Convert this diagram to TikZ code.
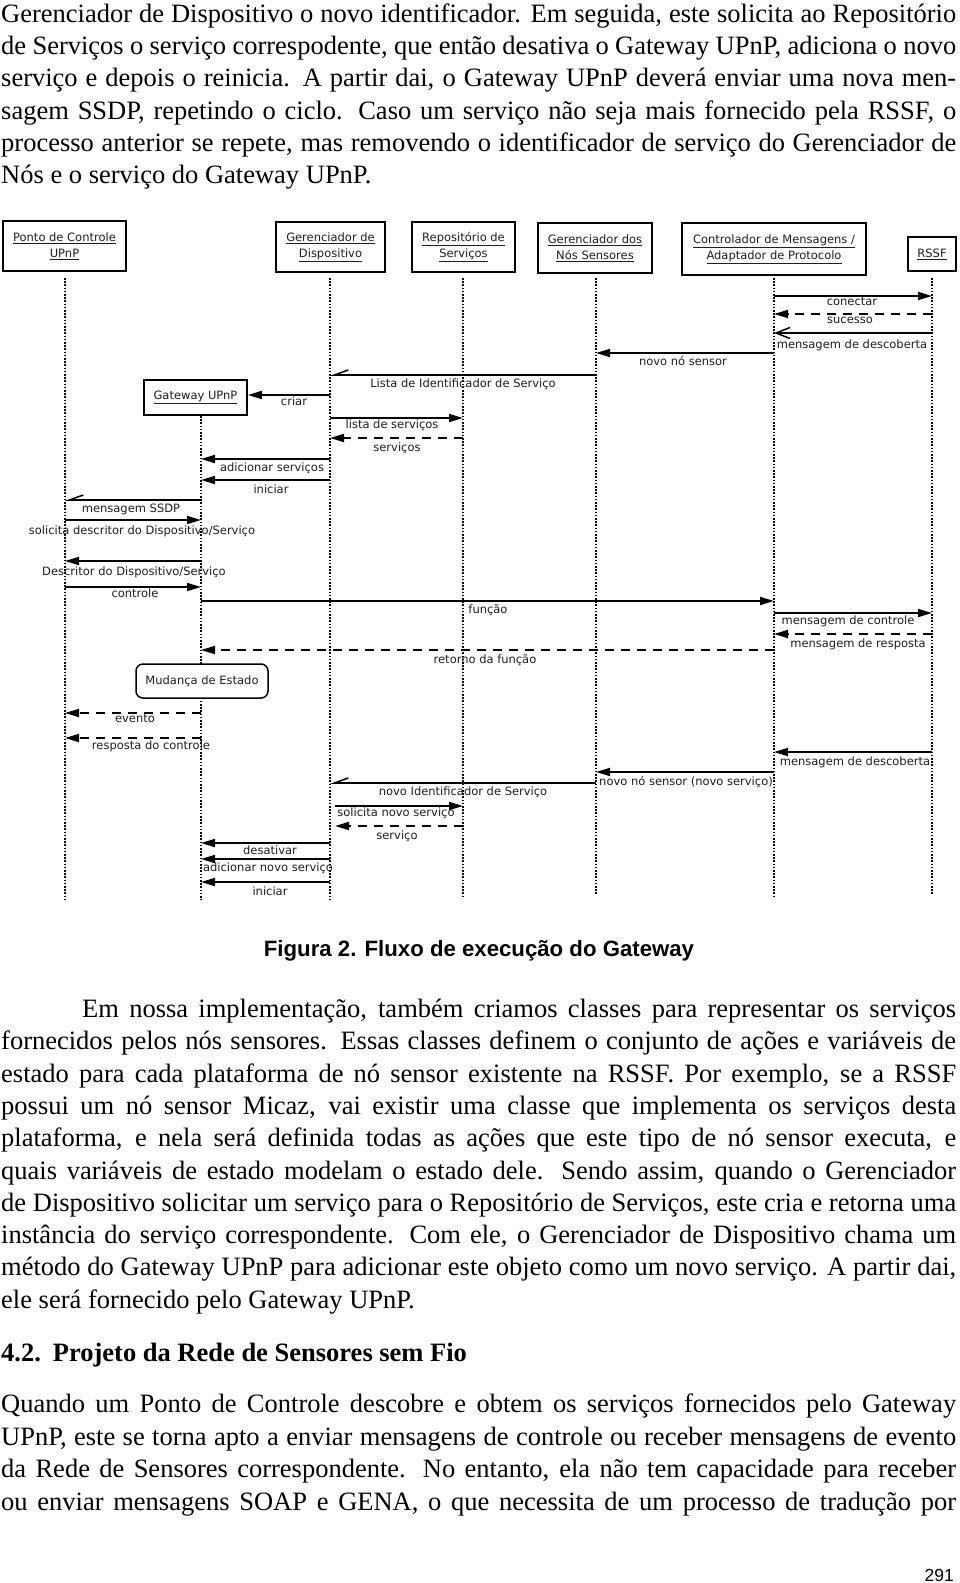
\documentclass[tikz,border=0pt]{standalone}
\usepackage{fontspec}
\setmainfont{Liberation Serif}
\newfontfamily\dvfont{DejaVu Sans}
\newfontfamily\hvfont{Liberation Sans}
\usetikzlibrary{arrows.meta}
\tikzset{
  lbl/.style={font=\dvfont\fontsize{11.5}{14}\selectfont, text=black!88, inner sep=0pt, anchor=mid},
  actor/.style={draw, line width=1.8pt, fill=white, align=center, font=\dvfont\fontsize{11.5}{16}\selectfont, text=black!88, inner sep=0pt},
  statebox/.style={draw, line width=1.5pt, rounded corners=7pt, fill=white, font=\dvfont\fontsize{11.5}{14}\selectfont, text=black!88, inner sep=0pt, minimum width=132pt, minimum height=34pt},
  life/.style={line width=1.6pt, dash pattern=on 1.6pt off 1.6pt},
  msg/.style={line width=1.8pt, -{Triangle[length=14pt,width=8pt]}},
  rmsg/.style={line width=1.8pt, dash pattern=on 9pt off 7pt, -{Triangle[length=14pt,width=8pt]}},
  amsg/.style={line width=1.8pt, -{Straight Barb[harpoon,swap,length=14pt,width=10pt,line width=1.5pt]}},
  omsg/.style={line width=1.8pt, -{Straight Barb[length=14pt,width=11pt,line width=1.5pt]}},
  body/.style={font=\fontsize{26.5}{32}\selectfont, inner sep=0pt, anchor=base west},
}
\begin{document}
\begin{tikzpicture}[x=1pt, y=-1pt]
\fill[white] (0,0) rectangle (960,1583);
\useasboundingbox (0,0) rectangle (960,1583);

% ---- top paragraph ----
\node[body] (a1) at (1,22.5) {\makebox[955pt][s]{Gerenciador de Dispositivo o novo identificador. Em seguida, este solicita ao Repositório}};
\node[body] (a2) at (1,54.7) {\makebox[955pt][s]{de Serviços o serviço correspodente, que então desativa o Gateway UPnP, adiciona o novo}};
\node[body] (a3) at (1,86.9) {\makebox[955pt][s]{serviço e depois o reinicia. A partir dai, o Gateway UPnP deverá enviar uma nova men-}};
\node[body] (a4) at (1,119.1) {\makebox[955pt][s]{sagem SSDP, repetindo o ciclo. Caso um serviço não seja mais fornecido pela RSSF, o}};
\node[body] (a5) at (1,151.3) {\makebox[955pt][s]{processo anterior se repete, mas removendo o identificador de serviço do Gerenciador de}};
\node[body] (a6) at (1,183.5) {Nós e o serviço do Gateway UPnP.};

% ---- actors ----
\node[actor, minimum width=123pt, minimum height=50pt] (pc) at (64.5,246) {\underline{Ponto de Controle}\\\underline{UPnP}};
\node[actor, minimum width=109pt, minimum height=50pt] (gd) at (330.5,247) {\underline{Gerenciador de}\\\underline{Dispositivo}};
\node[actor, minimum width=103pt, minimum height=50pt] (rs) at (463.5,247) {\underline{Repositório de}\\\underline{Serviços}};
\node[actor, minimum width=114pt, minimum height=50pt] (gn) at (595,248) {\underline{Gerenciador dos}\\\underline{Nós Sensores}};
\node[actor, minimum width=184pt, minimum height=52pt] (cm) at (774,249) {\underline{Controlador de Mensagens /}\\\underline{Adaptador de Protocolo}};
\node[actor, minimum width=48pt, minimum height=34pt] (rssf) at (932,254) {\underline{RSSF}};

% ---- lifelines ----
\coordinate (lPC) at (65,278);   \coordinate (ePC) at (65,900);
\coordinate (lGD) at (330,278);  \coordinate (eGD) at (330,900);
\coordinate (lGDb) at (335,278);
\coordinate (lRS) at (463,278);  \coordinate (eRS) at (463,898);
\coordinate (lGN) at (596,278);  \coordinate (eGN) at (596,894);
\coordinate (lCM) at (774,278);  \coordinate (eCM) at (774,897);
\coordinate (lRSSF) at (932,278);\coordinate (eRSSF) at (932,895);
\coordinate (lGW) at (201,416);  \coordinate (eGW) at (201,900);
\draw[life] (lPC) -- (ePC);
\draw[life] (lGD) -- (eGD);
\draw[life] (lRS) -- (eRS);
\draw[life] (lGN) -- (eGN);
\draw[life] (lCM) -- (eCM);
\draw[life] (lRSSF) -- (eRSSF);
\draw[life] (lGW) -- (eGW);

% ---- messages ----
\draw[msg] (lCM |- 0,296) -- (lRSSF |- 0,296);
\node[lbl] (m1) at (852,303) {conectar};
\draw[rmsg] (lRSSF |- 0,314) -- (lCM |- 0,314);
\node[lbl] (m2) at (850,321) {sucesso};
\draw[omsg] (lRSSF |- 0,333) -- (lCM |- 0,333);
\node[lbl] (m3) at (852,346) {mensagem de descoberta};
\draw[msg] (lCM |- 0,353) -- (lGN |- 0,353);
\node[lbl] (m4) at (683,363) {novo nó sensor};
\draw[amsg] (lGN |- 0,375) -- (lGD |- 0,375);
\node[lbl] (m5) at (463,385) {Lista de Identificador de Serviço};

\node[actor, minimum width=103pt, minimum height=35pt] (gw) at (195.5,397.5) {\underline{Gateway UPnP}};
\draw[msg] (lGD |- 0,395) -- (gw.east |- 0,395);
\node[lbl] (m6) at (294,403) {criar};
\draw[msg] (lGD |- 0,418) -- (lRS |- 0,418);
\node[lbl] (m7) at (392,426) {lista de serviços};
\draw[rmsg] (lRS |- 0,438) -- (lGD |- 0,438);
\node[lbl] (m8) at (397,449) {serviços};
\draw[msg] (lGD |- 0,459) -- (lGW |- 0,459);
\node[lbl] (m9) at (272,469) {adicionar serviços};
\draw[msg] (lGD |- 0,480) -- (lGW |- 0,480);
\node[lbl] (m10) at (271,491) {iniciar};
\draw[amsg] (lGW |- 0,500) -- (lPC |- 0,500);
\node[lbl] (m11) at (131,510) {mensagem SSDP};
\draw[msg] (lPC |- 0,520) -- (lGW |- 0,520);
\node[lbl] (m12) at (142,532) {solicita descritor do Dispositivo/Serviço};
\draw[msg] (lGW |- 0,561) -- (lPC |- 0,561);
\node[lbl] (m13) at (134,573) {Descritor do Dispositivo/Serviço};
\draw[msg] (lPC |- 0,587) -- (lGW |- 0,587);
\node[lbl] (m14) at (135,595) {controle};
\draw[msg] (lGW |- 0,601) -- (lCM |- 0,601);
\node[lbl] (m15) at (488,611) {função};
\draw[msg] (lCM |- 0,613) -- (lRSSF |- 0,613);
\node[lbl] (m16) at (848,622) {mensagem de controle};
\draw[rmsg] (lRSSF |- 0,634) -- (lCM |- 0,634);
\node[lbl] (m17) at (858,645) {mensagem de resposta};
\draw[rmsg] (lCM |- 0,650) -- (lGW |- 0,650);
\node[lbl] (m18) at (485,661) {retorno da função};
\node[statebox] (me) at (202,681) {Mudança de Estado};
\draw[rmsg] (lGW |- 0,713) -- (lPC |- 0,713);
\node[lbl] (m19) at (135,720) {evento};
\draw[rmsg] (lGW |- 0,738) -- (lPC |- 0,738);
\node[lbl] (m20) at (151,747) {resposta do controle};
\draw[msg] (lRSSF |- 0,752) -- (lCM |- 0,752);
\node[lbl] (m21) at (855,763) {mensagem de descoberta};
\draw[msg] (lCM |- 0,772) -- (lGN |- 0,772);
\node[lbl] (m22) at (686,783) {novo nó sensor (novo serviço)};
\draw[amsg] (lGN |- 0,783) -- (lGD |- 0,783);
\node[lbl] (m23) at (463,793) {novo Identificador de Serviço};
\draw[msg] (lGDb |- 0,806) -- (lRS |- 0,806);
\node[lbl] (m24) at (396,814) {solicita novo serviço};
\draw[rmsg] (lRS |- 0,826) -- (lGDb |- 0,826);
\node[lbl] (m25) at (397,837) {serviço};
\draw[msg] (lGD |- 0,843) -- (lGW |- 0,843);
\node[lbl] (m26) at (270,852) {desativar};
\draw[msg] (lGD |- 0,859) -- (lGW |- 0,859);
\node[lbl] (m27) at (268,869) {adicionar novo serviço};
\draw[msg] (lGD |- 0,882) -- (lGW |- 0,882);
\node[lbl] (m28) at (270,893) {iniciar};

% ---- caption ----
\node[font=\hvfont\bfseries\fontsize{22.2}{26}\selectfont, anchor=base, inner sep=0pt] (cap) at (479,956) {Figura 2. Fluxo de execução do Gateway};

% ---- bottom paragraph ----
\node[body] (b1) at (82,1017.5) {\makebox[874pt][s]{Em nossa implementação, também criamos classes para representar os serviços}};
\node[body] (b2) at (1,1049.8) {\makebox[955pt][s]{fornecidos pelos nós sensores. Essas classes definem o conjunto de ações e variáveis de}};
\node[body] (b3) at (1,1082.1) {\makebox[955pt][s]{estado para cada plataforma de nó sensor existente na RSSF. Por exemplo, se a RSSF}};
\node[body] (b4) at (1,1114.4) {\makebox[955pt][s]{possui um nó sensor Micaz, vai existir uma classe que implementa os serviços desta}};
\node[body] (b5) at (1,1146.7) {\makebox[955pt][s]{plataforma, e nela será definida todas as ações que este tipo de nó sensor executa, e}};
\node[body] (b6) at (1,1179) {\makebox[955pt][s]{quais variáveis de estado modelam o estado dele. Sendo assim, quando o Gerenciador}};
\node[body] (b7) at (1,1211.3) {\makebox[955pt][s]{de Dispositivo solicitar um serviço para o Repositório de Serviços, este cria e retorna uma}};
\node[body] (b8) at (1,1243.6) {\makebox[955pt][s]{instância do serviço correspondente. Com ele, o Gerenciador de Dispositivo chama um}};
\node[body] (b9) at (1,1275.9) {\makebox[955pt][s]{método do Gateway UPnP para adicionar este objeto como um novo serviço. A partir dai,}};
\node[body] (b10) at (1,1308.2) {ele será fornecido pelo Gateway UPnP.};

\node[body, font=\bfseries\fontsize{26.5}{32}\selectfont] (h) at (1,1361) {4.2.\hspace{0.45em}Projeto da Rede de Sensores sem Fio};

\node[body] (c1) at (1,1412.5) {\makebox[955pt][s]{Quando um Ponto de Controle descobre e obtem os serviços fornecidos pelo Gateway}};
\node[body] (c2) at (1,1445) {\makebox[955pt][s]{UPnP, este se torna apto a enviar mensagens de controle ou receber mensagens de evento}};
\node[body] (c3) at (1,1477.5) {\makebox[955pt][s]{da Rede de Sensores correspondente. No entanto, ela não tem capacidade para receber}};
\node[body] (c4) at (1,1510) {\makebox[955pt][s]{ou enviar mensagens SOAP e GENA, o que necessita de um processo de tradução por}};

\node[font=\hvfont\fontsize{17.5}{20}\selectfont, anchor=base east, inner sep=0pt] (pg) at (954,1581) {291};
\end{tikzpicture}
\end{document}
